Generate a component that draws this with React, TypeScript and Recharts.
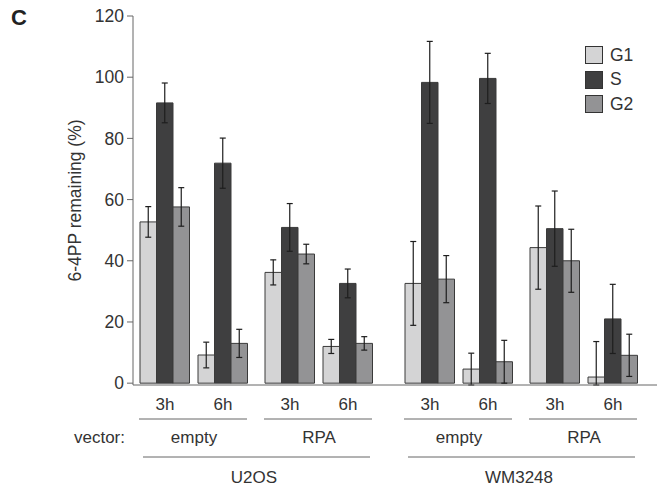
import { BarChart, Bar, XAxis, YAxis, ErrorBar, Legend } from 'recharts';

// hierarchy of the x axis
const cellLines = ['U2OS', 'WM3248'];
const vectors = ['empty', 'RPA'];
const times = ['3h', '6h'];

// % 6-4PP remaining, one value per (cell line, vector, time)
const g1 = [52.7, 9.2, 36.2, 12.0, 32.6, 4.6, 44.3, 2.0];
// last one is cut at the axis in the figure, so [below, above]
const g1Err = [5.0, 4.2, 4.1, 2.3, 13.7, 5.2, 13.6, [2.6, 11.6]];
const sPhase = [91.6, 71.9, 50.9, 32.6, 98.3, 99.6, 50.5, 21.0];
const sErr = [6.5, 8.2, 7.8, 4.7, 13.4, 8.2, 12.3, 11.3];
const g2 = [57.6, 13.0, 42.2, 13.0, 34.0, 7.0, 40.0, 9.1];
const g2Err = [6.3, 4.6, 3.2, 2.2, 7.7, 7.0, 10.3, 6.9];

const yTicks = [0, 20, 40, 60, 80, 100, 120];

const FONT = "'Liberation Sans', Arial, sans-serif";
const TEXT = '#333';
const AXIS = '#666';

// gaps between groups on the x scale (1 unit = 1px)
const START = 32;
const CELL_STEP = 265;
const VECTOR_STEP = 125;
const TIME_STEP = 58;

const data = g1.map((v, i) => {
  const cell = Math.floor(i / 4);
  const vec = Math.floor(i / 2) % 2;
  const t = i % 2;
  return {
    pos: START + cell * CELL_STEP + vec * VECTOR_STEP + t * TIME_STEP,
    time: times[t],
    vector: vectors[vec],
    cell: cellLines[cell],
    G1: v,
    g1Err: g1Err[i],
    S: sPhase[i],
    sErr: sErr[i],
    G2: g2[i],
    g2Err: g2Err[i],
  };
});

const textStyle = { fontFamily: FONT, fontSize: 17, fill: TEXT };

// draws 3h/6h, the vector row and the cell line row under the axis
const XTick = ({ x, y, index }: any) => {
  const d = data[index];
  if (!d) return null;
  return (
    <g>
      <text x={x} y={y + 25} textAnchor="middle" style={textStyle}>
        {d.time}
      </text>
      {index % 2 === 0 && (
        <>
          <line x1={x - 26} x2={x + TIME_STEP + 24} y1={y + 34} y2={y + 34} stroke={AXIS} strokeWidth={1} />
          <text x={x + TIME_STEP / 2} y={y + 58} textAnchor="middle" style={textStyle}>
            {d.vector}
          </text>
        </>
      )}
      {index % 4 === 0 && (
        <>
          <line
            x1={x - 22}
            x2={x + VECTOR_STEP + TIME_STEP + 22}
            y1={y + 72}
            y2={y + 72}
            stroke={AXIS}
            strokeWidth={1}
          />
          <text x={x + 89} y={y + 98} textAnchor="middle" style={textStyle}>
            {d.cell}
          </text>
        </>
      )}
      {index === 0 && (
        <text x={x - 40} y={y + 58} textAnchor="end" style={textStyle}>
          vector:
        </text>
      )}
    </g>
  );
};

const YLabel = ({ viewBox }: any) => {
  const cx = 75;
  const cy = viewBox.y + viewBox.height / 2;
  return (
    <text
      x={cx}
      y={cy}
      transform={`rotate(-90, ${cx}, ${cy})`}
      textAnchor="middle"
      dominantBaseline="central"
      style={{ fontFamily: FONT, fontSize: 17.5, fill: TEXT }}
    >
      6-4PP remaining (%)
    </text>
  );
};

const series = [
  { key: 'G1', err: 'g1Err', color: '#d4d4d5' },
  { key: 'S', err: 'sErr', color: '#3f3f40' },
  { key: 'G2', err: 'g2Err', color: '#939395' },
];

const LegendBox = () => (
  <div style={{ fontFamily: FONT, fontSize: 17.5, color: TEXT }}>
    {series.map((s) => (
      <div key={s.key} style={{ display: 'flex', alignItems: 'center', height: 24.5 }}>
        <span
          style={{
            display: 'inline-block',
            width: 16,
            height: 16,
            background: s.color,
            border: '1px solid #333',
            marginRight: 7,
          }}
        />
        {s.key}
      </div>
    ))}
  </div>
);

export default function App() {
  return (
    <div style={{ position: 'absolute', left: 0, top: 0, width: 657, height: 488, background: '#fff' }}>
      <div
        style={{
          position: 'absolute',
          left: 11,
          top: 5,
          fontFamily: FONT,
          fontWeight: 'bold',
          fontSize: 22,
          color: '#222',
        }}
      >
        C
      </div>
      <BarChart
        width={657}
        height={488}
        data={data}
        margin={{ top: 16, right: 0, left: 0, bottom: 0 }}
        barGap={0}
        barSize={16.5}
      >
        <XAxis
          dataKey="pos"
          type="number"
          domain={[0, 524]}
          ticks={data.map((d) => d.pos)}
          interval={0}
          height={103}
          tickLine={false}
          tickSize={0}
          tickMargin={0}
          axisLine={{ stroke: AXIS }}
          tick={<XTick />}
        />
        <YAxis
          width={133}
          domain={[0, 120]}
          ticks={yTicks}
          interval={0}
          tickSize={6}
          tickMargin={3}
          axisLine={{ stroke: AXIS }}
          tickLine={{ stroke: AXIS }}
          tick={{ ...textStyle, fontSize: 17.5 }}
          label={<YLabel />}
        />
        <Legend
          layout="vertical"
          align="center"
          verticalAlign="middle"
          content={<LegendBox />}
          wrapperStyle={{ position: 'absolute', left: 585, top: 43, width: 70 }}
        />
        {series.map((s) => (
          <Bar
            key={s.key}
            dataKey={s.key}
            fill={s.color}
            stroke="#3a3a3a"
            strokeWidth={1}
            isAnimationActive={false}
          >
            <ErrorBar dataKey={s.err} width={3} stroke="#1e1e1e" strokeWidth={1.2} direction="y" />
          </Bar>
        ))}
      </BarChart>
    </div>
  );
}
